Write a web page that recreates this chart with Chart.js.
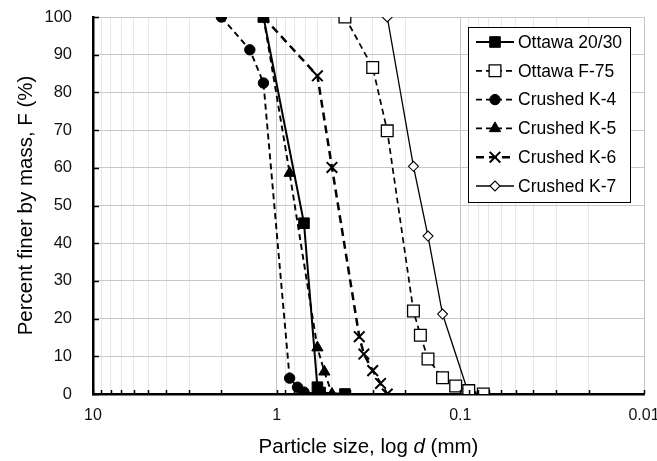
<!DOCTYPE html>
<html>
<head>
    <title>Particle size distribution</title>
    <script src="https://cdn.jsdelivr.net/npm/chart.js"></script>
    <style>
        body { margin: 0; background: #fff; }
    </style>
</head>
<body>
    <canvas id="psd" width="657" height="461"></canvas>

    <script>
        // particle size d (mm) and percent finer F (%) per material
        const ottawa2030D = [1.18, 0.71, 0.6, 0.58, 0.425];
        const ottawa2030F = [100, 45.3, 1.8, 0.4, 0];
        const ottawaF75D = [0.425, 0.3, 0.25, 0.18, 0.165, 0.15, 0.125, 0.106, 0.09, 0.075];
        const ottawaF75F = [100, 86.6, 69.8, 22.0, 15.6, 9.3, 4.3, 2.1, 0.9, 0];
        const k4D = [2.0, 1.4, 1.18, 0.85, 0.77, 0.71, 0.6];
        const k4F = [100, 91.3, 82.5, 4.2, 1.8, 0.5, 0];
        const k5D = [1.18, 0.85, 0.6, 0.55, 0.5];
        const k5F = [100, 58.6, 12.3, 5.9, 0];
        const k6D = [1.18, 0.6, 0.5, 0.355, 0.335, 0.3, 0.272, 0.25];
        const k6F = [100, 84.4, 60.1, 15.2, 10.6, 6.2, 2.8, 0];
        const k7D = [0.25, 0.18, 0.15, 0.125, 0.09];
        const k7F = [100, 60.4, 41.9, 21.2, 0];

        const sizeTickLabels = [10, 1, 0.1, 0.01];
        const xTitleParts = ['Particle size, log ', 'd', ' (mm)'];
        const yTitle = 'Percent finer by mass, F (%)';

        const FONT = 'Arial, "Liberation Sans", sans-serif';

        // grid lines at 1..9 x 10^n between 0.01 and 10
        const gridValues = [];
        for (let e = -2; e <= 0; e++) {
            for (let k = 1; k <= 9; k++) {
                gridValues.push(Number((k * Math.pow(10, e)).toPrecision(3)));
            }
        }
        gridValues.push(10);

        const pts = (d, f) => d.map((v, i) => ({ x: v, y: f[i] }));

        const datasets = [
            { label: 'Ottawa 20/30', data: pts(ottawa2030D, ottawa2030F), borderWidth: 2, borderDash: [],
              pointStyle: 'rect', pointRadius: 7.5, pointBackgroundColor: '#000', pointBorderWidth: 1 },
            { label: 'Ottawa F-75', data: pts(ottawaF75D, ottawaF75F), borderWidth: 1.7, borderDash: [6, 4],
              pointStyle: 'rect', pointRadius: 8.3, pointBackgroundColor: '#fff', pointBorderWidth: 1.3 },
            { label: 'Crushed K-4', data: pts(k4D, k4F), borderWidth: 1.9, borderDash: [6, 4],
              pointStyle: 'circle', pointRadius: 5.2, pointBackgroundColor: '#000', pointBorderWidth: 1 },
            { label: 'Crushed K-5', data: pts(k5D, k5F), borderWidth: 1.9, borderDash: [6, 4],
              pointStyle: 'triangle', pointRadius: 6.5, pointBackgroundColor: '#000', pointBorderWidth: 1 },
            { label: 'Crushed K-6', data: pts(k6D, k6F), borderWidth: 2.5, borderDash: [8, 5],
              pointStyle: 'crossRot', pointRadius: 7.5, pointBackgroundColor: '#000', pointBorderWidth: 2 },
            { label: 'Crushed K-7', data: pts(k7D, k7F), borderWidth: 1.3, borderDash: [],
              pointStyle: 'rectRot', pointRadius: 5, pointBackgroundColor: '#fff', pointBorderWidth: 1.1 }
        ].map(ds => Object.assign(ds, {
            borderColor: '#000',
            pointBorderColor: '#000',
            fill: false,
            tension: 0
        }));

        // inward tick marks, axis titles and the boxed legend inside the plot
        const extras = {
            id: 'extras',
            afterDraw(chart) {
                const ctx = chart.ctx;
                const area = chart.chartArea;
                const xs = chart.scales.x;
                const ys = chart.scales.y;

                ctx.save();
                ctx.strokeStyle = '#000';
                ctx.lineWidth = 1.5;
                ctx.setLineDash([]);
                gridValues.forEach(v => {
                    const px = Math.round(xs.getPixelForValue(v)) + 0.5;
                    ctx.beginPath();
                    ctx.moveTo(px, area.bottom);
                    ctx.lineTo(px, area.bottom - 4);
                    ctx.stroke();
                });
                for (let v = 0; v <= 100; v += 10) {
                    const py = Math.round(ys.getPixelForValue(v)) + 0.5;
                    ctx.beginPath();
                    ctx.moveTo(area.left, py);
                    ctx.lineTo(area.left + 6, py);
                    ctx.stroke();
                }

                // x title with italic d
                ctx.fillStyle = '#000';
                ctx.textBaseline = 'middle';
                const normal = '20.5px ' + FONT;
                const italic = 'italic 20.5px ' + FONT;
                const fonts = [normal, italic, normal];
                let total = 0;
                xTitleParts.forEach((t, i) => { ctx.font = fonts[i]; total += ctx.measureText(t).width; });
                let tx = (area.left + area.right) / 2 - total / 2;
                ctx.textAlign = 'left';
                xTitleParts.forEach((t, i) => {
                    ctx.font = fonts[i];
                    ctx.fillText(t, tx, 447);
                    tx += ctx.measureText(t).width;
                });

                // y title
                ctx.save();
                ctx.translate(26, (area.top + area.bottom) / 2);
                ctx.rotate(-Math.PI / 2);
                ctx.textAlign = 'center';
                ctx.font = normal;
                ctx.fillText(yTitle, 0, 0);
                ctx.restore();

                // legend box
                const boxW = 162, boxH = 175;
                const bx = area.right - 14 - boxW;
                const by = area.top + 10;
                ctx.fillStyle = '#fff';
                ctx.fillRect(bx, by, boxW, boxH);
                ctx.lineWidth = 1;
                ctx.strokeStyle = '#000';
                ctx.strokeRect(Math.round(bx) + 0.5, Math.round(by) + 0.5, boxW, boxH);

                chart.data.datasets.forEach((ds, i) => {
                    const cy = by + 15 + i * 28.8;
                    ctx.save();
                    ctx.strokeStyle = '#000';
                    ctx.lineWidth = ds.borderWidth;
                    ctx.setLineDash(ds.borderDash);
                    ctx.beginPath();
                    ctx.moveTo(bx + 8, cy);
                    ctx.lineTo(bx + 46, cy);
                    ctx.stroke();
                    ctx.setLineDash([]);
                    ctx.fillStyle = ds.pointBackgroundColor;
                    ctx.lineWidth = ds.pointBorderWidth;
                    Chart.helpers.drawPoint(ctx, {
                        pointStyle: ds.pointStyle,
                        rotation: 0,
                        radius: ds.pointRadius,
                        borderWidth: ds.pointBorderWidth
                    }, bx + 27, cy);
                    ctx.restore();

                    ctx.fillStyle = '#000';
                    ctx.font = '17.5px ' + FONT;
                    ctx.textAlign = 'left';
                    ctx.textBaseline = 'middle';
                    ctx.fillText(ds.label, bx + 50, cy + 1);
                });
                ctx.restore();
            }
        };

        new Chart(document.getElementById('psd').getContext('2d'), {
            type: 'line',
            data: { datasets: datasets },
            options: {
                responsive: false,
                animation: false,
                layout: { padding: { top: 17, right: 13, left: 0, bottom: 0 } },
                plugins: {
                    legend: { display: false },
                    tooltip: { enabled: false }
                },
                scales: {
                    x: {
                        type: 'logarithmic',
                        reverse: true,
                        min: 0.01,
                        max: 10,
                        afterBuildTicks: scale => {
                            scale.ticks = gridValues.map(v => ({ value: v }));
                        },
                        afterFit: scale => {
                            scale.height = 67;
                            scale.paddingLeft = 0;
                            scale.paddingRight = 0;
                        },
                        grid: {
                            drawTicks: false,
                            color: ctx => sizeTickLabels.includes(ctx.tick && ctx.tick.value) ? '#c4c4c4' : '#e8e8e8',
                            lineWidth: 1
                        },
                        border: { color: '#000', width: 2.5 },
                        ticks: {
                            autoSkip: false,
                            maxRotation: 0,
                            padding: 12,
                            color: '#111',
                            font: { family: FONT, size: 16 },
                            callback: v => sizeTickLabels.includes(v) ? String(v) : ''
                        }
                    },
                    y: {
                        min: 0,
                        max: 100,
                        afterFit: scale => {
                            scale.width = 93;
                            scale.paddingTop = 0;
                            scale.paddingBottom = 0;
                        },
                        grid: { drawTicks: false, color: '#c8c8c8', lineWidth: 1 },
                        border: { color: '#000', width: 2.5 },
                        ticks: {
                            stepSize: 10,
                            padding: 21,
                            color: '#111',
                            font: { family: FONT, size: 16.5 }
                        }
                    }
                }
            },
            plugins: [extras]
        });
    </script>
</body>
</html>
